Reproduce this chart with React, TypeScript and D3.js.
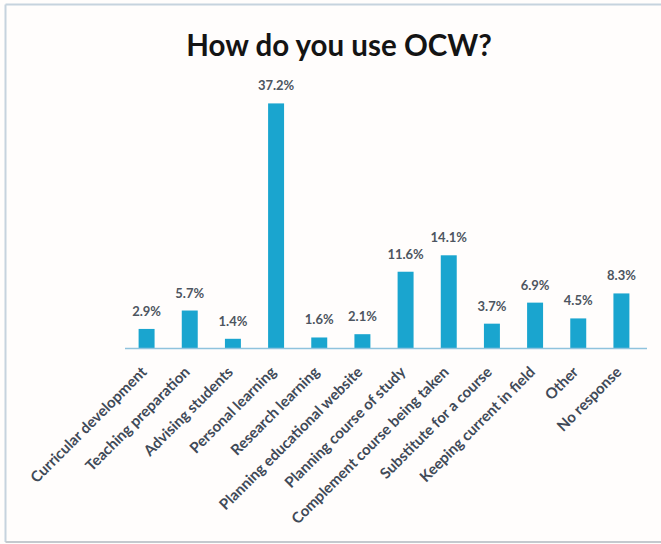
import React from "react";
import * as d3 from "d3";

const categories = [
  "Curricular development",
  "Teaching preparation",
  "Advising students",
  "Personal learning",
  "Research learning",
  "Planning educational website",
  "Planning course of study",
  "Complement course being taken",
  "Substitute for a course",
  "Keeping current in field",
  "Other",
  "No response",
];
const values = [2.9, 5.7, 1.4, 37.2, 1.6, 2.1, 11.6, 14.1, 3.7, 6.9, 4.5, 8.3];
const valueLabels = ["2.9%", "5.7%", "1.4%", "37.2%", "1.6%", "2.1%", "11.6%", "14.1%", "3.7%", "6.9%", "4.5%", "8.3%"];
const title = "How do you use OCW?";

const W = 661;
const H = 544;
const plot = { left: 125, right: 643, top: 85, bottom: 348 };

export default function App() {
  const x = d3
    .scaleBand<string>()
    .domain(categories)
    .range([plot.left, plot.right])
    .paddingInner(0.63)
    .paddingOuter(0.315);
  const y = d3.scaleLinear().domain([0, 40]).range([plot.bottom, plot.top]);
  const font = "Lato, 'Open Sans', sans-serif";
  return (
    <svg
      width={W}
      height={H}
      style={{ position: "absolute", left: 0, top: 0, background: "#fffdfc" }}
    >
      <rect x={0} y={0} width={W} height={H} fill="#fffdfc" />
      {/* frame */}
      <line x1={5.5} y1={4.5} x2={W} y2={4.5} stroke="#c6d3de" strokeWidth={2} />
      <line x1={5.5} y1={4.5} x2={5.5} y2={542} stroke="#c6d3de" strokeWidth={2} />
      <line x1={5.5} y1={542} x2={W} y2={542} stroke="#c4c9ce" strokeWidth={2} />
      <text
        x={339}
        y={56}
        textAnchor="middle"
        fontFamily={font}
        fontWeight={700}
        fontSize={29.5}
        fill="#141414"
      >
        {title}
      </text>
      {categories.map((c, i) => {
        const bx = x(c)!;
        return (
          <g key={c}>
            <rect
              x={bx}
              y={y(values[i])}
              width={x.bandwidth()}
              height={plot.bottom - y(values[i])}
              fill="#1aa5cf"
            />
            <text
              x={bx + x.bandwidth() / 2}
              y={y(values[i]) - 13}
              textAnchor="middle"
              fontFamily={font}
              fontWeight={700}
              fontSize={13}
              fill="#4d5560"
            >
              {valueLabels[i]}
            </text>
          </g>
        );
      })}
      <line
        x1={plot.left}
        x2={plot.right + 4}
        y1={plot.bottom + 0.5}
        y2={plot.bottom + 0.5}
        stroke="#8fc3dd"
        strokeWidth={1.5}
      />
      {categories.map((c) => {
        const cx = x(c)! + x.bandwidth() / 2 + 1;
        const cy = plot.bottom + 25;
        return (
          <text
            key={"l" + c}
            x={cx}
            y={cy}
            textAnchor="end"
            transform={`rotate(-45, ${cx}, ${cy})`}
            fontFamily={font}
            fontWeight={700}
            fontSize={15}
            fill="#3f4a58"
          >
            {c}
          </text>
        );
      })}
    </svg>
  );
}
